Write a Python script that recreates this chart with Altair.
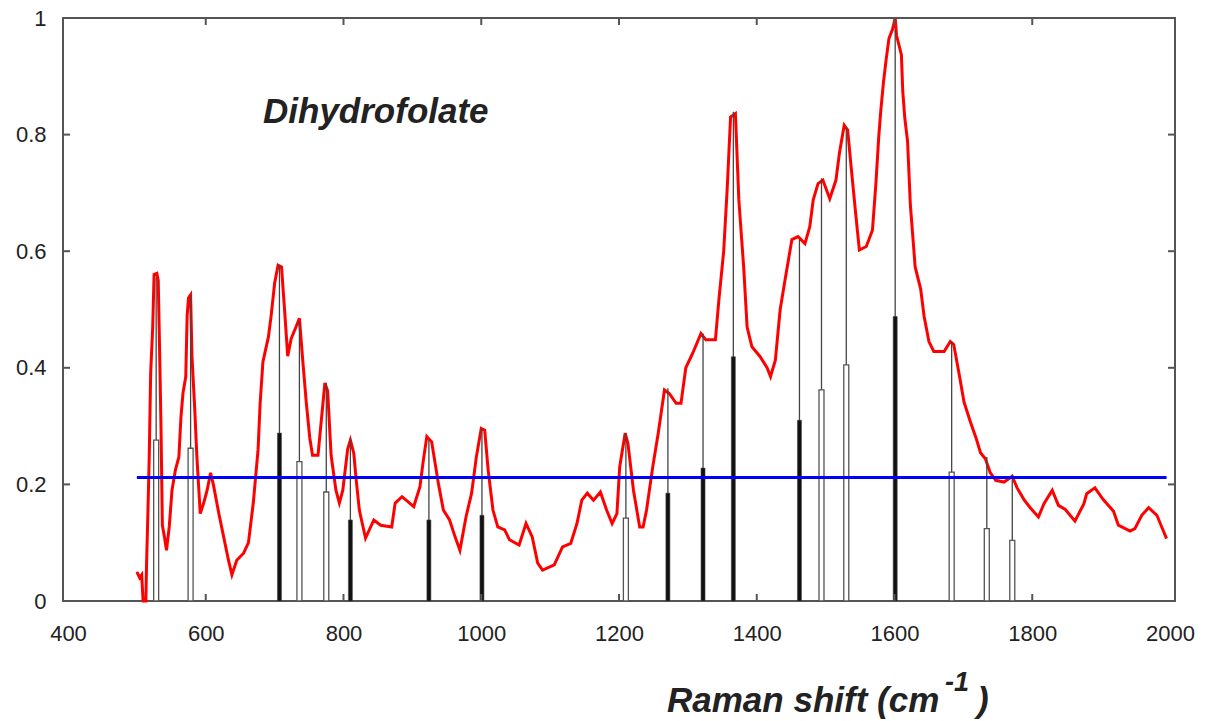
import altair as alt
import pandas as pd

# ---- red measured spectrum (Raman shift, normalised intensity) ----
spec_x = [500, 504, 507, 509, 513, 514, 516, 518, 520, 523, 525, 529, 531, 533, 535, 537, 540, 543, 547,
          551, 556, 561, 564, 567, 571, 573, 575, 578, 580, 584, 587, 592, 597, 602, 607, 611, 619, 626,
          633, 638, 645, 655, 662, 669, 676, 679, 683, 691, 695, 700, 705, 710, 715, 719, 724, 731, 736,
          741, 746, 751, 755, 763, 767, 773, 777, 782, 789, 794, 799, 806, 810, 815, 818, 823, 825, 832,
          844, 854, 870, 875, 885, 902, 911, 916, 921, 928, 938, 945, 954, 962, 969, 978, 986, 993, 1000,
          1005, 1010, 1017, 1024, 1034, 1041, 1055, 1065, 1074, 1082, 1089, 1106, 1118, 1130, 1139, 1146,
          1154, 1163, 1173, 1182, 1190, 1197, 1201, 1209, 1213, 1221, 1230, 1235, 1240, 1249, 1257, 1266,
          1273, 1283, 1290, 1297, 1307, 1319, 1326, 1340, 1345, 1352, 1357, 1362, 1369, 1374, 1381, 1386,
          1393, 1405, 1415, 1420, 1427, 1434, 1441, 1451, 1460, 1470, 1477, 1482, 1489, 1496, 1506, 1515,
          1520, 1527, 1532, 1537, 1544, 1549, 1559, 1568, 1573, 1577, 1580, 1584, 1588, 1592, 1597, 1601,
          1603, 1610, 1612, 1615, 1619, 1623, 1630, 1638, 1643, 1650, 1657, 1672, 1681, 1686, 1694, 1701,
          1710, 1718, 1725, 1732, 1739, 1747, 1759, 1771, 1778, 1788, 1797, 1809, 1817, 1829, 1838, 1848,
          1862, 1875, 1879, 1891, 1903, 1918, 1925, 1942, 1949, 1959, 1969, 1981, 1988, 1995]
spec_y = [0.050, 0.040, 0.045, 0.000, 0.000, 0.060, 0.150, 0.250, 0.390, 0.470, 0.560, 0.562, 0.550,
          0.430, 0.300, 0.130, 0.110, 0.087, 0.127, 0.190, 0.225, 0.247, 0.316, 0.357, 0.385, 0.490,
          0.520, 0.525, 0.420, 0.330, 0.250, 0.150, 0.168, 0.190, 0.220, 0.200, 0.150, 0.110, 0.070,
          0.045, 0.070, 0.082, 0.100, 0.168, 0.260, 0.340, 0.410, 0.453, 0.490, 0.545, 0.576, 0.573,
          0.490, 0.420, 0.450, 0.470, 0.485, 0.410, 0.340, 0.280, 0.250, 0.250, 0.300, 0.374, 0.360,
          0.250, 0.190, 0.168, 0.190, 0.260, 0.276, 0.253, 0.213, 0.156, 0.145, 0.108, 0.139, 0.130,
          0.127, 0.168, 0.179, 0.162, 0.196, 0.242, 0.282, 0.273, 0.200, 0.156, 0.139, 0.110, 0.087,
          0.145, 0.185, 0.248, 0.296, 0.293, 0.225, 0.156, 0.127, 0.122, 0.105, 0.096, 0.133, 0.110,
          0.065, 0.053, 0.062, 0.093, 0.099, 0.133, 0.173, 0.185, 0.173, 0.187, 0.156, 0.133, 0.150,
          0.230, 0.288, 0.270, 0.190, 0.127, 0.127, 0.156, 0.230, 0.288, 0.362, 0.356, 0.339, 0.339,
          0.400, 0.425, 0.459, 0.448, 0.448, 0.516, 0.600, 0.705, 0.830, 0.836, 0.688, 0.573, 0.470,
          0.436, 0.419, 0.400, 0.385, 0.413, 0.500, 0.550, 0.620, 0.625, 0.613, 0.642, 0.688, 0.716,
          0.722, 0.690, 0.722, 0.768, 0.816, 0.808, 0.745, 0.660, 0.602, 0.608, 0.636, 0.716, 0.794,
          0.840, 0.890, 0.930, 0.965, 0.980, 1.000, 0.970, 0.937, 0.874, 0.828, 0.788, 0.680, 0.573,
          0.535, 0.488, 0.445, 0.428, 0.428, 0.445, 0.440, 0.388, 0.341, 0.308, 0.281, 0.254, 0.244,
          0.220, 0.207, 0.204, 0.214, 0.194, 0.174, 0.160, 0.144, 0.167, 0.190, 0.164, 0.157, 0.137,
          0.167, 0.184, 0.194, 0.174, 0.154, 0.130, 0.120, 0.124, 0.147, 0.160, 0.147, 0.127, 0.107]

# ---- calculated modes (stick spectrum) ----
stick_x = [528, 578, 707, 736, 775, 810, 924, 1001, 1210, 1271, 1322, 1366, 1462, 1494, 1530, 1601,
           1683, 1734, 1771]
stick_full = [0.555, 0.525, 0.576, 0.479, 0.374, 0.279, 0.276, 0.296, 0.288, 0.365, 0.459, 0.839,
              0.619, 0.725, 0.814, 0.980, 0.445, 0.247, 0.217]
stick_half = [0.276, 0.262, 0.288, 0.239, 0.187, 0.139, 0.139, 0.147, 0.142, 0.185, 0.228, 0.419,
              0.310, 0.362, 0.405, 0.488, 0.221, 0.124, 0.104]
stick_kind = ["double", "double", "single", "double", "double", "single", "single", "single", "double",
              "single", "single", "single", "single", "double", "double", "single", "double", "double",
              "double"]

# ---- threshold line ----
threshold_value = 0.212
threshold_start = 500
threshold_end = 1995

x_ticks = [400, 600, 800, 1000, 1200, 1400, 1600, 1800, 2000]
y_ticks = [0, 0.2, 0.4, 0.6, 0.8, 1]
x_inner_ticks = [600, 800, 1000, 1200, 1400, 1600, 1800]
y_inner_ticks = [0.2, 0.4, 0.6, 0.8]

chart_title = "Dihydrofolate"
x_title_main = "Raman shift (cm"
x_title_sup = "-1"
x_title_end = ")"

W, H = 1112, 583
FONT = "Liberation Sans, Arial, sans-serif"

spec_df = pd.DataFrame({"x": spec_x, "y": spec_y})
stick_df = pd.DataFrame({"x": stick_x, "full": stick_full, "half": stick_half, "kind": stick_kind})
thr_df = pd.DataFrame({"x1": [threshold_start], "x2": [threshold_end], "y": [threshold_value]})
xt_df = pd.DataFrame({"v": x_inner_ticks})
yt_df = pd.DataFrame({"v": y_inner_ticks})

xs = alt.Scale(domain=[400, 2000], nice=False, zero=False)
ys = alt.Scale(domain=[0, 1], nice=False)
xaxis = alt.Axis(values=x_ticks, format="d", labelFontSize=22, labelFont=FONT, labelColor="#222",
                 ticks=False, domain=False, grid=False, labelPadding=22, labelFlush=False)
yaxis = alt.Axis(values=y_ticks, format="~g", labelFontSize=22, labelFont=FONT, labelColor="#222",
                 ticks=False, domain=False, grid=False, labelPadding=17, labelFlush=False)


def X(field):
    return alt.X(field, type="quantitative", scale=xs, axis=xaxis, title=None)


def Y(field):
    return alt.Y(field, type="quantitative", scale=ys, axis=yaxis, title=None)


red = alt.Chart(spec_df).mark_line(color="#ff0000", strokeWidth=3).encode(x=X("x"), y=Y("y"))

full = alt.Chart(stick_df).mark_rule(color="#444", strokeWidth=1.3).encode(
    x=X("x"), y=Y("full"), y2=alt.value(H))

singles = alt.Chart(stick_df).transform_filter(alt.datum.kind == "single").mark_bar(
    size=4, fill="#111", stroke="#444", strokeWidth=0.6).encode(
    x=X("x"), y=Y("half"))

doubles = alt.Chart(stick_df).transform_filter(alt.datum.kind == "double").mark_bar(
    size=5, fill="#ffffff", stroke="#555", strokeWidth=1.3).encode(
    x=X("x"), y=Y("half"))

blue = alt.Chart(thr_df).mark_rule(color="#0000ff", strokeWidth=3).encode(
    x=X("x1"), x2="x2:Q", y=Y("y"))

tick_style = dict(color="#555", strokeWidth=2)
t_bottom = alt.Chart(xt_df).mark_rule(**tick_style).encode(x=X("v"), y=alt.value(H), y2=alt.value(H - 7))
t_top = alt.Chart(xt_df).mark_rule(**tick_style).encode(x=X("v"), y=alt.value(0), y2=alt.value(7))
t_left = alt.Chart(yt_df).mark_rule(**tick_style).encode(y=Y("v"), x=alt.value(0), x2=alt.value(7))
t_right = alt.Chart(yt_df).mark_rule(**tick_style).encode(y=Y("v"), x=alt.value(W), x2=alt.value(W - 7))

title_df = pd.DataFrame({"t": [chart_title]})
title_txt = alt.Chart(title_df).mark_text(
    font=FONT, fontSize=35, fontWeight="bold", fontStyle="italic", color="#222",
    align="left", baseline="alphabetic").encode(text="t:N", x=alt.value(200), y=alt.value(105))

xt1 = alt.Chart(pd.DataFrame({"t": [x_title_main]})).mark_text(
    font=FONT, fontSize=35, fontWeight="bold", fontStyle="italic", color="#222",
    align="left", baseline="alphabetic").encode(text="t:N", x=alt.value(604), y=alt.value(H + 111))
xt2 = alt.Chart(pd.DataFrame({"t": [x_title_sup]})).mark_text(
    font=FONT, fontSize=27, fontWeight="bold", fontStyle="italic", color="#222",
    align="left", baseline="alphabetic").encode(text="t:N", x=alt.value(882), y=alt.value(H + 90))
xt3 = alt.Chart(pd.DataFrame({"t": [x_title_end]})).mark_text(
    font=FONT, fontSize=35, fontWeight="bold", fontStyle="italic", color="#222",
    align="left", baseline="alphabetic").encode(text="t:N", x=alt.value(914), y=alt.value(H + 111))

chart = alt.layer(
    red, full, singles, doubles, blue, t_bottom, t_top, t_left, t_right, title_txt, xt1, xt2, xt3
).properties(
    width=W, height=H,
    padding={"left": 63, "top": 18, "right": 30, "bottom": 120},
    autosize=alt.AutoSizeParams(type="none"),
    background="white",
).configure_view(stroke="#555", strokeWidth=2)

chart.save("out.html", embed_options={"renderer": "svg", "actions": False})
